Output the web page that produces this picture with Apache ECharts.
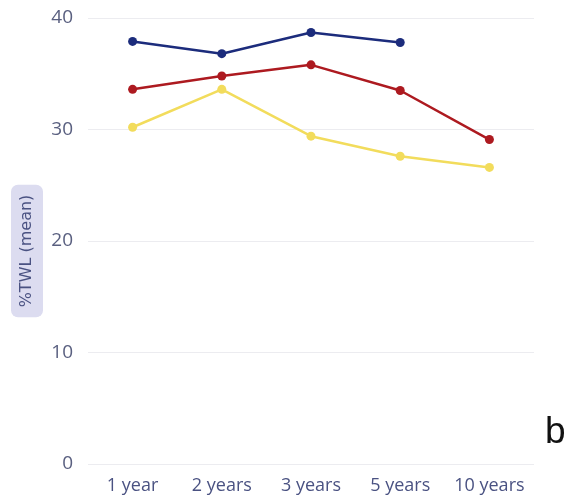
<!DOCTYPE html>
<html>
<head>
<meta charset="utf-8">
<script src="https://cdn.jsdelivr.net/npm/echarts@6/dist/echarts.min.js"></script>
<style>
  html, body { margin: 0; padding: 0; background: #fff; }
  #chart { width: 571px; height: 498px; }
</style>
</head>
<body>
<div id="chart"></div>
<script>
// Follow-up time points
const categories = ['1 year', '2 years', '3 years', '5 years', '10 years'];

// Mean %TWL per cohort
const seriesBlue = [37.9, 36.8, 38.7, 37.8, null];
const seriesRed = [33.6, 34.8, 35.8, 33.5, 29.1];
const seriesYellow = [30.2, 33.6, 29.4, 27.6, 26.6];

const yTicks = [0, 10, 20, 30, 40];
const yTitle = '%TWL (mean)';

const chart = echarts.init(document.getElementById('chart'));

function line(data, color) {
  return {
    type: 'line',
    data: data,
    symbol: 'circle',
    symbolSize: 9,
    connectNulls: false,
    lineStyle: { color: color, width: 2.5 },
    itemStyle: { color: color },
    animation: false
  };
}

chart.setOption({
  animation: false,
  grid: {
    left: 88, right: 37, top: 18, bottom: 34,
    containLabel: false,
    outerBoundsMode: 'none'
  },
  xAxis: {
    type: 'category',
    data: categories,
    axisLine: { show: false },
    axisTick: { show: false },
    axisLabel: {
      interval: 0,
      hideOverlap: false,
      color: '#4a5282',
      fontFamily: '"Open Sans", sans-serif',
      fontSize: 18,
      margin: 13
    }
  },
  yAxis: {
    type: 'value',
    min: yTicks[0],
    max: yTicks[yTicks.length - 1],
    interval: 10,
    axisLine: { show: false },
    axisTick: { show: false },
    splitLine: { lineStyle: { color: '#ececf0', width: 1 } },
    axisLabel: {
      color: '#5a6080',
      fontFamily: '"Open Sans", sans-serif',
      fontSize: 19,
      margin: 15
    }
  },
  series: [
    line(seriesBlue, '#1c2c7c'),
    line(seriesRed, '#ad1a20'),
    line(seriesYellow, '#f2dc5c')
  ],
  graphic: [
    {
      // y-axis title in a rounded pill, reading bottom to top
      type: 'text',
      x: 27,
      y: 251,
      rotation: Math.PI / 2,
      style: {
        text: yTitle,
        align: 'center',
        verticalAlign: 'middle',
        fill: '#4a5282',
        font: '16px "DejaVu Sans", sans-serif',
        backgroundColor: '#dcdcf0',
        borderRadius: 7,
        padding: [8, 10, 8, 10]
      }
    },
    {
      type: 'text',
      left: 545,
      top: 414,
      style: {
        text: 'b',
        fill: '#111',
        font: '37px "Liberation Sans", sans-serif'
      }
    }
  ]
});
</script>
</body>
</html>
